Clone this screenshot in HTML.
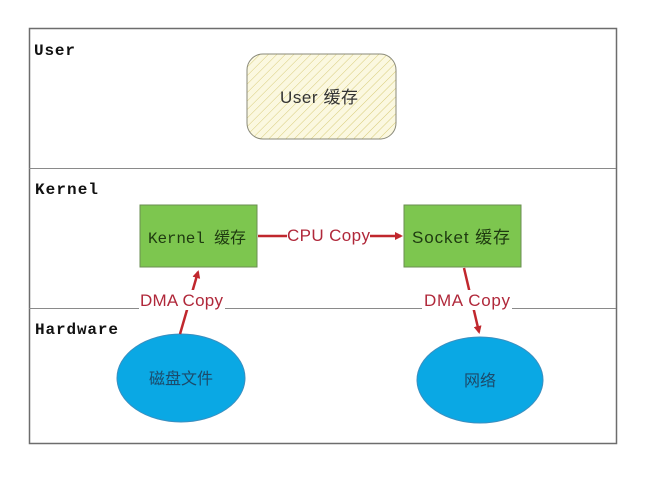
<!DOCTYPE html>
<html><head><meta charset="utf-8"><style>
html,body{margin:0;padding:0;background:#fff;width:649px;height:477px;overflow:hidden}
</style></head><body>
<svg width="649" height="477" viewBox="0 0 649 477" xmlns="http://www.w3.org/2000/svg">
<defs>
<pattern id="h" width="6" height="6" patternUnits="userSpaceOnUse" patternTransform="rotate(45)">
<rect width="6" height="6" fill="#fbf8e0"/>
<line x1="0" y1="0" x2="0" y2="6" stroke="#d8cc7a" stroke-width="1"/>
</pattern>
<marker id="a" markerWidth="8" markerHeight="8" refX="6" refY="4" orient="auto" markerUnits="userSpaceOnUse">
<path d="M0,0 L8,4 L0,8 z" fill="#c0272d"/>
</marker>
</defs>
<rect x="29.5" y="28.5" width="587" height="415" fill="#fff" stroke="#6d6d6d" stroke-width="1.5"/>
<line x1="29" y1="168.5" x2="616" y2="168.5" stroke="#8a8a8a"/>
<line x1="29" y1="308.5" x2="616" y2="308.5" stroke="#8a8a8a"/>
<g font-family="'Liberation Mono',monospace" font-weight="bold" font-size="16" fill="#111">
<text x="34" y="55" textLength="41">User</text>
<text x="35" y="194" textLength="63">Kernel</text>
<text x="35" y="334" textLength="83">Hardware</text>
</g>
<rect x="247" y="54" width="149" height="85" rx="16" fill="url(#h)" stroke="#8a8a7a"/>
<text x="280" y="103" textLength="78" font-family="'Liberation Sans','Noto Sans CJK SC',sans-serif" font-size="17" fill="#333">User 缓存</text>
<rect x="140" y="205" width="117" height="62" fill="#7dc64f" stroke="#6a8e50"/>
<text x="148" y="243" textLength="98" font-family="'Liberation Mono','Noto Sans CJK SC',monospace" font-size="16" fill="#1e3a10">Kernel 缓存</text>
<rect x="404" y="205" width="117" height="62" fill="#7dc64f" stroke="#6a8e50"/>
<text x="412" y="243" textLength="98" font-family="'Liberation Sans','Noto Sans CJK SC',sans-serif" font-size="17" fill="#1e3a10">Socket 缓存</text>
<ellipse cx="181" cy="378" rx="64" ry="44" fill="#0aa8e4" stroke="#3a8fc0"/>
<text x="181" y="384" text-anchor="middle" font-family="'Noto Sans CJK SC',sans-serif" font-size="16" fill="#1c4a6a">磁盘文件</text>
<ellipse cx="480" cy="380" rx="63" ry="43" fill="#0aa8e4" stroke="#3a8fc0"/>
<text x="480" y="386" text-anchor="middle" font-family="'Noto Sans CJK SC',sans-serif" font-size="16" fill="#1c4a6a">网络</text>
<g stroke="#c0272d" stroke-width="2.5" fill="none">
<line x1="258" y1="236" x2="287" y2="236"/>
<line x1="370" y1="236" x2="401" y2="236" marker-end="url(#a)"/>
<line x1="180" y1="334" x2="198" y2="272" marker-end="url(#a)"/>
<line x1="464" y1="268" x2="479" y2="332" marker-end="url(#a)"/>
</g>
<rect x="139" y="290" width="86" height="20" fill="#fff"/>
<rect x="422" y="290" width="90" height="20" fill="#fff"/>
<g font-family="'Liberation Sans',sans-serif" font-size="17" fill="#b0283a">
<text x="287" y="241" textLength="83" lengthAdjust="spacing">CPU  Copy</text>
<text x="140" y="306" textLength="83" lengthAdjust="spacing">DMA  Copy</text>
<text x="424" y="306" textLength="86" lengthAdjust="spacing">DMA  Copy</text>
</g>
</svg>
</body></html>
